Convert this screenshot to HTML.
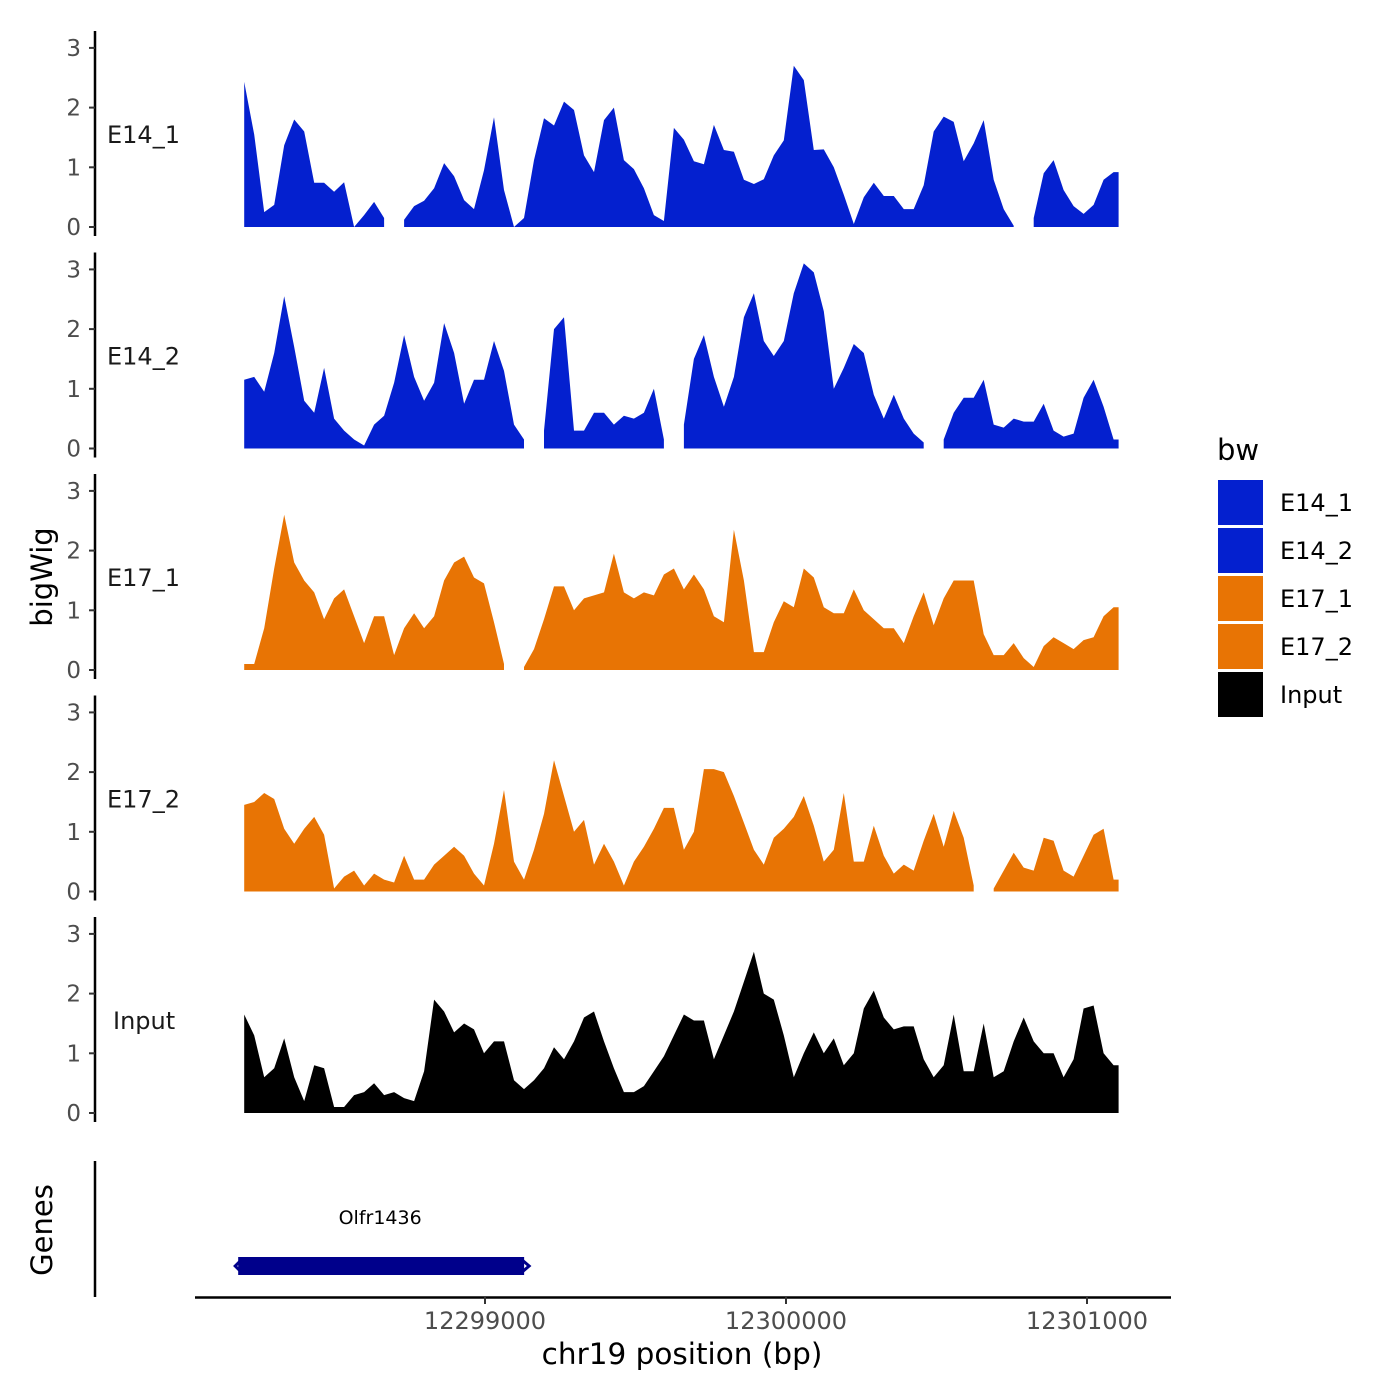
<!DOCTYPE html>
<html><head><meta charset="utf-8"><style>
html,body{margin:0;padding:0;background:#fff;}
svg{display:block;font-family:"DejaVu Sans","Liberation Sans",sans-serif;}
</style></head><body>
<svg id="chart" width="1400" height="1400" viewBox="0 0 1400 1400" xmlns="http://www.w3.org/2000/svg">
<rect width="1400" height="1400" fill="#fff"/>
<g id="tracks"></g>
<g id="genes">
<line x1="95" y1="1161" x2="95" y2="1297" stroke="#000" stroke-width="2.5"/>
<text x="0" y="0" transform="translate(52,1230) rotate(-90)" text-anchor="middle" font-size="29" fill="#000">Genes</text>
</g>
<g id="xaxis">
<line x1="195" y1="1297.5" x2="1171" y2="1297.5" stroke="#000" stroke-width="2.5"/>
</g>
<text x="682" y="1364" text-anchor="middle" font-size="29.5" fill="#000">chr19 position (bp)</text>
<text x="0" y="0" transform="translate(52,577) rotate(-90)" text-anchor="middle" font-size="29" fill="#000">bigWig</text>
<g id="legend">
<text x="1217" y="460" font-size="29" fill="#000">bw</text>
</g>
</svg>
<script>
const startBp = 12298200;
const stepBp = 33.2;
const trackNames = ["E14_1","E14_2","E17_1","E17_2","Input"];
const trackColors = ["#0420cf","#0420cf","#e87404","#e87404","#000000"];
const yTicks = [0,1,2,3];
const xTickValues = [12299000,12300000,12301000];
const xTickLabels = ["12299000","12300000","12301000"];
const E14_1 = [2.43,1.55,0.25,0.37,1.37,1.8,1.6,0.74,0.74,0.59,0.75,0,0.2,0.42,0.15,null,0.12,0.35,0.44,0.65,1.07,0.85,0.45,0.3,0.95,1.84,0.62,0,0.15,1.12,1.82,1.7,2.1,1.96,1.2,0.92,1.79,2.0,1.12,0.97,0.65,0.2,0.1,1.66,1.46,1.1,1.05,1.71,1.29,1.26,0.79,0.72,0.8,1.2,1.45,2.7,2.46,1.29,1.3,1.0,0.54,0.05,0.5,0.74,0.52,0.52,0.3,0.3,0.7,1.6,1.85,1.76,1.1,1.4,1.79,0.79,0.3,0.02,null,0.15,0.9,1.12,0.62,0.35,0.22,0.37,0.79,0.92];
const E14_2 = [1.15,1.2,0.95,1.6,2.55,1.7,0.8,0.6,1.35,0.5,0.3,0.15,0.05,0.4,0.55,1.1,1.9,1.2,0.8,1.1,2.1,1.6,0.75,1.15,1.15,1.8,1.3,0.4,0.15,null,0.3,2.0,2.2,0.3,0.3,0.6,0.6,0.4,0.55,0.5,0.6,1.0,0.15,null,0.4,1.5,1.9,1.2,0.7,1.2,2.2,2.6,1.8,1.55,1.8,2.6,3.1,2.95,2.3,1.0,1.35,1.75,1.6,0.9,0.5,0.9,0.5,0.25,0.1,null,0.15,0.6,0.85,0.85,1.15,0.4,0.35,0.5,0.45,0.45,0.75,0.3,0.2,0.25,0.85,1.15,0.7,0.15];
const E17_1 = [0.1,0.1,0.7,1.7,2.6,1.8,1.5,1.3,0.85,1.2,1.35,0.9,0.45,0.9,0.9,0.25,0.7,0.95,0.7,0.9,1.5,1.8,1.9,1.55,1.45,0.8,0.1,null,0.05,0.35,0.85,1.4,1.4,1.0,1.2,1.25,1.3,1.95,1.3,1.2,1.3,1.25,1.6,1.7,1.35,1.6,1.35,0.9,0.8,2.35,1.5,0.3,0.3,0.8,1.15,1.05,1.7,1.55,1.05,0.95,0.95,1.35,1.0,0.85,0.7,0.7,0.45,0.9,1.3,0.75,1.2,1.5,1.5,1.5,0.6,0.25,0.25,0.45,0.2,0.05,0.4,0.55,0.45,0.35,0.5,0.55,0.9,1.05];
const E17_2 = [1.45,1.5,1.65,1.55,1.05,0.8,1.05,1.25,0.95,0.05,0.25,0.35,0.1,0.3,0.2,0.15,0.6,0.2,0.2,0.45,0.6,0.75,0.6,0.3,0.1,0.8,1.7,0.5,0.2,0.7,1.3,2.2,1.6,1.0,1.2,0.45,0.8,0.5,0.1,0.5,0.75,1.05,1.4,1.4,0.7,1.0,2.05,2.05,2.0,1.6,1.15,0.7,0.45,0.9,1.05,1.25,1.6,1.1,0.5,0.7,1.65,0.5,0.5,1.1,0.6,0.3,0.45,0.35,0.85,1.3,0.75,1.35,0.9,0.1,null,0.05,0.35,0.65,0.4,0.35,0.9,0.85,0.35,0.25,0.6,0.95,1.05,0.2];
const Input = [1.65,1.3,0.6,0.75,1.25,0.6,0.2,0.8,0.75,0.1,0.1,0.3,0.35,0.5,0.3,0.35,0.25,0.2,0.7,1.9,1.7,1.35,1.5,1.4,1.0,1.2,1.2,0.55,0.4,0.55,0.75,1.1,0.9,1.2,1.6,1.7,1.2,0.75,0.35,0.35,0.45,0.7,0.95,1.3,1.65,1.55,1.55,0.9,1.3,1.7,2.2,2.7,2.0,1.9,1.3,0.6,1.0,1.35,1.0,1.25,0.8,1.0,1.75,2.05,1.6,1.4,1.45,1.45,0.9,0.6,0.8,1.65,0.7,0.7,1.5,0.6,0.7,1.2,1.6,1.2,1.0,1.0,0.6,0.9,1.75,1.8,1.0,0.8];
const trackValues = [E14_1,E14_2,E17_1,E17_2,Input];
const geneStart = 12298180;
const geneEnd = 12299130;
const geneName = "Olfr1436";

const NS = "http://www.w3.org/2000/svg";
function xScale(bp){ return 485 + (bp - 12299000) * 0.301; }
function trackBase(t){ return 227 + t * 221.5; }
function yScale(t, v){ return trackBase(t) - v * 59.7; }
function mk(tag, attrs, parent){ const e=document.createElementNS(NS,tag); for(const k in attrs) e.setAttribute(k,attrs[k]); parent.appendChild(e); return e; }

const tracksG = document.getElementById('tracks');
trackNames.forEach((name, t) => {
  const g = mk('g', {}, tracksG);
  
  
  const base = trackBase(t);
  const axis = mk('line', {x1:95, y1:base-196, x2:95, y2:base+9, stroke:'#000','stroke-width':2.5}, g);
  
  
  yTicks.forEach(v => {
    const y = yScale(t, v);
    const tk = mk('line', {x1:89, y1:y, x2:95, y2:y, stroke:'#333','stroke-width':2}, g);
    
    
    const lb = mk('text', {x:81, y:y+8, 'text-anchor':'end','font-size':23, fill:'#4d4d4d'}, g);
    lb.textContent = String(v);
    
    
  });
  const strip = mk('text', {x:name==='Input'?113:107, y:base-84, 'font-size':24, fill:'#1a1a1a'}, g);
  strip.textContent = name;
  
  
  const vals = trackValues[t];
  let seg = [];
  const segs = [];
  vals.forEach((v, i) => {
    if (v === null) { if (seg.length) segs.push(seg); seg = []; }
    else seg.push([startBp + i*stepBp, v]);
  });
  if (seg.length) segs.push(seg);
  segs.forEach((s, si) => {
    let d = 'M' + xScale(s[0][0]).toFixed(1) + ',' + base;
    s.forEach(p => { d += ' L' + xScale(p[0]).toFixed(1) + ',' + yScale(t, p[1]).toFixed(1); });
    let endX = xScale(s[s.length-1][0]);
    if (si === segs.length - 1) { endX += 5; d += ' L' + endX.toFixed(1) + ',' + yScale(t, s[s.length-1][1]).toFixed(1); }
    d += ' L' + endX.toFixed(1) + ',' + base + ' Z';
    const a = mk('path', {d:d, fill:trackColors[t], 'stroke-linejoin':'round'}, g);
    
    
  });
});

const genesG = document.getElementById('genes');
const gx1 = xScale(geneStart), gx2 = xScale(geneEnd);
const gb = mk('rect', {x:gx1, y:1257, width:gx2-gx1, height:18, fill:'#00008b'}, genesG);


const ga = mk('path', {d:'M'+(gx2-2)+',1260 L'+(gx2+5)+',1266 L'+(gx2-2)+',1272 M'+(gx1+3)+',1260 L'+(gx1-3)+',1266 L'+(gx1+3)+',1272', stroke:'#00008b','stroke-width':3, fill:'none'}, genesG);


const gt = mk('text', {x:(gx1+gx2)/2 - 1, y:1224, 'text-anchor':'middle','font-size':19, fill:'#000'}, genesG);
gt.textContent = geneName;



const xg = document.getElementById('xaxis');
xTickValues.forEach((v, i) => {
  const x = xScale(v);
  const tk = mk('line', {x1:x, y1:1297, x2:x, y2:1304, stroke:'#333','stroke-width':2}, xg);
  
  
  const lb = mk('text', {x:x, y:1329, 'text-anchor':'middle','font-size':24, fill:'#4d4d4d'}, xg);
  lb.textContent = xTickLabels[i];
  
  
});

const lg = document.getElementById('legend');
trackNames.forEach((name, i) => {
  const y = 480 + i*48;
  const r = mk('rect', {x:1218, y:y, width:45, height:45, fill:trackColors[i]}, lg);
  
  
  const tx = mk('text', {x:1280, y:y+31, 'font-size':24, fill:'#000'}, lg);
  tx.textContent = name;
  
  
});
</script>
</body></html>
